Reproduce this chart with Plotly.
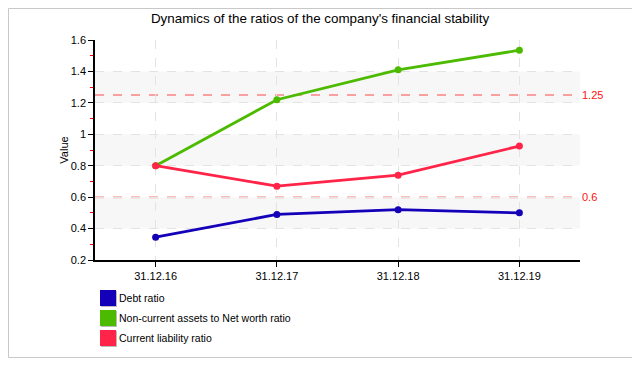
import plotly.graph_objects as go

categories = ["31.12.16", "31.12.17", "31.12.18", "31.12.19"]
debt_ratio = [0.345, 0.49, 0.52, 0.50]
noncurrent_ratio = [0.80, 1.22, 1.41, 1.535]
current_liab_ratio = [0.80, 0.67, 0.74, 0.925]
series_names = ["Debt ratio", "Non-current assets to Net worth ratio", "Current liability ratio"]
series_colors = ["#1400b8", "#4cbb00", "#ff2448"]
ref_levels = [1.25, 0.6]
ref_labels = ["1.25", "0.6"]
band_ranges = [(0.4, 0.6), (0.8, 1.0), (1.2, 1.4)]
y_ticks = [0.2, 0.4, 0.6, 0.8, 1.0, 1.2, 1.4, 1.6]
y_tick_text = ["0.2", "0.4", "0.6", "0.8", "1", "1.2", "1.4", "1.6"]

FONT = "Liberation Sans, Arial, sans-serif"

# figure geometry (page is offset by the 8px body margin)
W, H = 632, 357
ML, MT, PW, PH = 87, 32, 485, 220
MR, MB = W - ML - PW, H - MT - PH


def px_x(fx):
    return (fx - ML) / PW


def px_y(fy):
    return (MT + PH - fy) / PH


fig = go.Figure()
all_series = [debt_ratio, noncurrent_ratio, current_liab_ratio]
for name, vals, col in zip(series_names, all_series, series_colors):
    fig.add_trace(go.Scatter(
        x=categories, y=vals, mode="lines+markers", name=name,
        line=dict(color=col, width=2.8),
        marker=dict(color=col, size=7),
        showlegend=False, hoverinfo="x+y+name"))

shapes = []
for y0, y1 in band_ranges:
    shapes.append(dict(type="rect", xref="paper", yref="y", x0=0, x1=1, y0=y0, y1=y1,
                       fillcolor="#f7f7f7", line=dict(width=0), layer="below"))
for lv in ref_levels:
    shapes.append(dict(type="line", xref="paper", yref="y", x0=0, x1=1, y0=lv, y1=lv,
                       line=dict(color="rgba(255,90,90,0.55)", width=2, dash="dash"),
                       layer="between"))
# outer border
shapes.append(dict(type="rect", xref="paper", yref="paper",
                   x0=px_x(0.5), x1=px_x(624.5), y0=px_y(349.5), y1=px_y(0.5),
                   line=dict(color="#c8c8c8", width=1), fillcolor="rgba(0,0,0,0)",
                   layer="above"))

annotations = []
for lv, lab in zip(ref_levels, ref_labels):
    annotations.append(dict(x=1, xref="paper", y=lv, yref="y", text=lab, showarrow=False,
                            xanchor="left", xshift=0, font=dict(color="#ff1010", size=11, family=FONT)))

# custom legend (squares + labels)
for i, (name, col) in enumerate(zip(series_names, series_colors)):
    top = 282 + 20 * i
    shapes.append(dict(type="rect", xref="paper", yref="paper",
                       x0=px_x(93), x1=px_x(109), y0=px_y(top + 17), y1=px_y(top + 1),
                       fillcolor="#bbbbbb", line=dict(width=0)))
    shapes.append(dict(type="rect", xref="paper", yref="paper",
                       x0=px_x(92), x1=px_x(108), y0=px_y(top + 16), y1=px_y(top),
                       fillcolor=col, line=dict(width=0)))
    annotations.append(dict(x=px_x(109), xref="paper", y=px_y(top + 8), yref="paper",
                            text=name, showarrow=False, xanchor="left", yanchor="middle",
                            font=dict(size=10.5, family=FONT, color="#000")))

fig.update_layout(
    width=W, height=H,
    margin=dict(l=ML, r=MR, t=MT, b=MB, autoexpand=False),
    paper_bgcolor="white", plot_bgcolor="white",
    font=dict(family=FONT, size=11, color="#000"),
    showlegend=False,
    title=dict(text="Dynamics of the ratios of the company's financial stability",
               x=(320 - 8) / W, xref="container", xanchor="center",
               y=1 - 10 / H, yref="container", yanchor="middle",
               font=dict(size=13.4, family=FONT, color="#000")),
    shapes=shapes, annotations=annotations,
    xaxis=dict(type="category", range=[-0.5, 3.5], showline=True, linecolor="#000", linewidth=1.5,
               ticks="outside", ticklen=5, tickcolor="#000",
               showgrid=True, gridcolor="#e3e3e3", griddash="dash", gridwidth=1,
               zeroline=False, fixedrange=True),
    yaxis=dict(range=[0.2, 1.6], tickvals=y_ticks, ticktext=y_tick_text,
               showline=True, linecolor="#000", linewidth=1.5,
               ticks="outside", ticklen=5, tickcolor="#000",
               showgrid=True, gridcolor="#e3e3e3", griddash="dash", gridwidth=1,
               zeroline=False,
               minor=dict(tickvals=[0.3, 0.5, 0.7, 0.9, 1.1, 1.3, 1.5], ticks="outside",
                          ticklen=3, tickcolor="#ff0000", showgrid=False),
               title=dict(text="Value", font=dict(size=11, family=FONT), standoff=0)),
)

fig.write_html("out.html")
